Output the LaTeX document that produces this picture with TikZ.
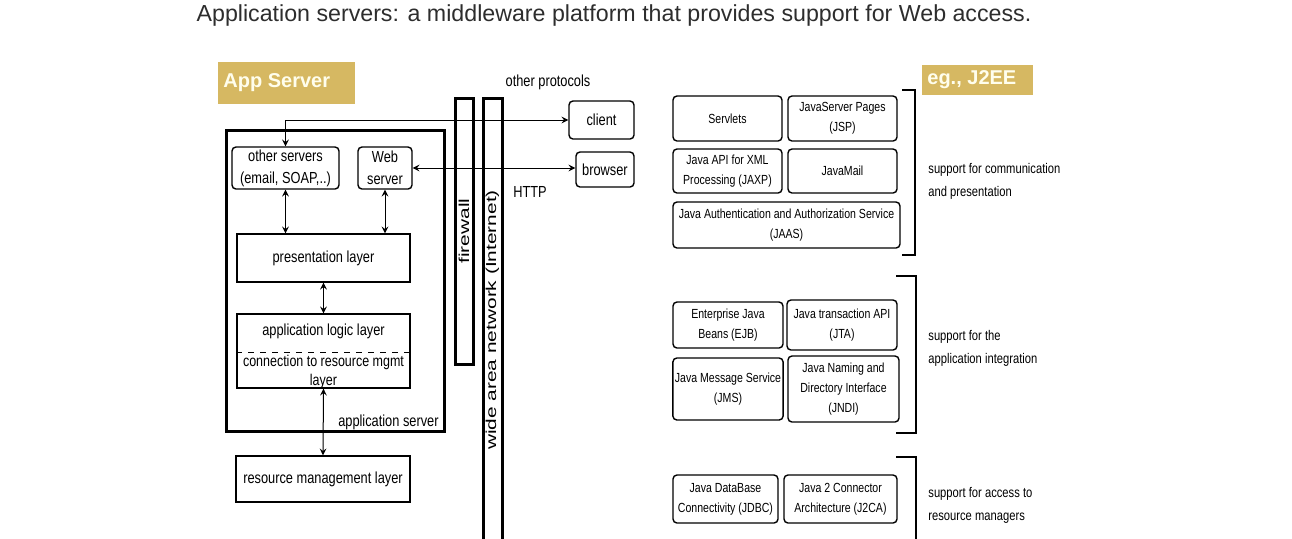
\documentclass[tikz,border=0pt]{standalone}
\usepackage{fontspec}
\setmainfont{Liberation Sans}
\newfontfamily\sketchfont[FakeStretch=0.8]{Liberation Sans}
\newfontfamily\widefont[FakeStretch=1.45]{Liberation Sans}
\usetikzlibrary{positioning}
\definecolor{gold}{RGB}{214,184,98}
\definecolor{titlegray}{RGB}{45,45,45}

\begin{document}
\begin{tikzpicture}[x=0.5pt,y=-0.5pt,>=stealth,
  box/.style={draw,line width=0.7pt,inner sep=1pt,align=center,font=\sketchfont\fontsize{8}{11}\selectfont},
  rbox/.style={box,rounded corners=2pt},
  jbox/.style={rbox,font=\sketchfont\fontsize{6.6}{10}\selectfont},
  note/.style={font=\sketchfont\fontsize{8}{11}\selectfont,inner sep=1pt},
  side/.style={font=\sketchfont\fontsize{7}{11.5}\selectfont,align=left,anchor=west,inner sep=1pt},
  tagtext/.style={text=white!93!yellow,font=\bfseries\fontsize{10}{12}\selectfont,anchor=west,inner sep=1pt},
  bar/.style={draw,line width=1.5pt,inner sep=0pt},
  vlabel/.style={rotate=90,font=\widefont\fontsize{7.2}{9}\selectfont,inner sep=0pt},
  link/.style={<->,line width=0.5pt}]
\useasboundingbox (0,0) rectangle (1292,538);

% title
\node[font=\fontsize{11.6}{14}\selectfont,text=titlegray] (title) at (614,15)
  {Application servers: a middleware platform that provides support for Web access.};

% app server side
\fill[gold] (218,62) rectangle (355,104);
\node[tagtext] (apptag) at (221,83) {App Server};
\node[draw,line width=1.5pt,minimum width=109pt,minimum height=150.5pt] (appsrv) at (335,280.5) {};
\node[note,anchor=base east] (appsrvlbl) at (441,426) {application server};

\node[rbox,minimum width=53.5pt,minimum height=21pt] (othsrv) at (285.5,168) {other servers\\(email, SOAP,..)};
\node[rbox,minimum width=27pt,minimum height=21pt] (websrv) at (385,168) {Web\\server};
\node[box,minimum width=86.5pt,minimum height=24pt] (pres) at (323.5,258) {presentation layer};
\node[box,minimum width=86.5pt,minimum height=37pt] (logic) at (323.5,351) {};
\draw[dashed,line width=0.4pt] (logic.west |- 0,352) -- (logic.east |- 0,352);
\node[note] (logiclbl) at (323.5,331) {application logic layer};
\node[note,align=center,font=\sketchfont\fontsize{7.8}{9.5}\selectfont] (connlbl) at (323.5,372) {connection to resource mgmt\\layer};
\node[box,minimum width=87pt,minimum height=23pt] (resmgmt) at (323,479) {resource management layer};

% firewall and network
\node[bar,minimum width=9pt,minimum height=133pt] (fwall) at (464,231) {};
\node[vlabel] (fwalllbl) at (464,231) {firewall};
\draw[line width=1.5pt] (483,545) -- (483,98) -- (502,98) -- (502,545);
\node[vlabel] (wanlbl) at (492.5,320) {wide area network (Internet)};

\node[rbox,minimum width=32.5pt,minimum height=19pt] (client) at (601.5,120) {client};
\node[rbox,minimum width=29pt,minimum height=17.5pt] (browser) at (605,169.5) {browser};
\node[note] (otherproto) at (548,82) {other protocols};
\node[note] (http) at (530,192) {HTTP};

\draw[link] (othsrv.north) |- (client.west);
\draw[link] (websrv.east) -- (websrv.east -| browser.west);
\draw[link] (othsrv.south) -- (othsrv.south |- pres.north);
\draw[link] (websrv.south) -- (websrv.south |- pres.north);
\draw[link] (pres.south) -- (logic.north);
\draw[link] (logic.south) -- (resmgmt.north);

% J2EE side
\fill[gold] (922,65) rectangle (1033,95);
\node[tagtext] (eetag) at (925,80) {eg., J2EE};

\node[jbox,minimum width=54.5pt,minimum height=22.5pt] (servlets) at (727.5,118.5) {Servlets};
\node[jbox,minimum width=54.5pt,minimum height=22.5pt] (jsp) at (842.5,118.5) {JavaServer Pages\\(JSP)};
\node[jbox,minimum width=54.5pt,minimum height=22pt] (jaxp) at (727.5,171) {Java API for XML\\Processing (JAXP)};
\node[jbox,minimum width=54.5pt,minimum height=22pt] (javamail) at (842.5,171) {JavaMail};
\node[jbox,minimum width=113.5pt,minimum height=23pt] (jaas) at (786.5,225) {Java Authentication and Authorization Service\\(JAAS)};

\node[jbox,minimum width=55pt,minimum height=23pt] (ejb) at (728,325) {Enterprise Java\\Beans (EJB)};
\node[jbox,minimum width=55pt,minimum height=25pt] (jta) at (842,325) {Java transaction API\\(JTA)};
\node[jbox,minimum width=55pt,minimum height=31pt] (jms) at (728,389) {Java Message Service\\(JMS)};
\node[jbox,minimum width=55.5pt,minimum height=33pt] (jndi) at (843.5,389) {Java Naming and\\Directory Interface\\(JNDI)};

\node[jbox,minimum width=52.5pt,minimum height=24pt] (jdbc) at (725.5,499) {Java DataBase\\Connectivity (JDBC)};
\node[jbox,minimum width=56.5pt,minimum height=24pt] (jca) at (840.5,499) {Java 2 Connector\\Architecture (J2CA)};

% brackets
\draw[line width=1pt] (902,90) -- (915,90) -- (915,255) -- (902,255);
\draw[line width=1pt] (896,276) -- (916,276) -- (916,433) -- (896,433);
\draw[line width=1pt] (896,457) -- (916,457) -- (916,545);

\node[side] (commlbl) at (926,181) {support for communication\\and presentation};
\node[side] (integlbl) at (926,348) {support for the\\application integration};
\node[side] (accesslbl) at (926,505) {support for access to\\resource managers};
\end{tikzpicture}
\end{document}
